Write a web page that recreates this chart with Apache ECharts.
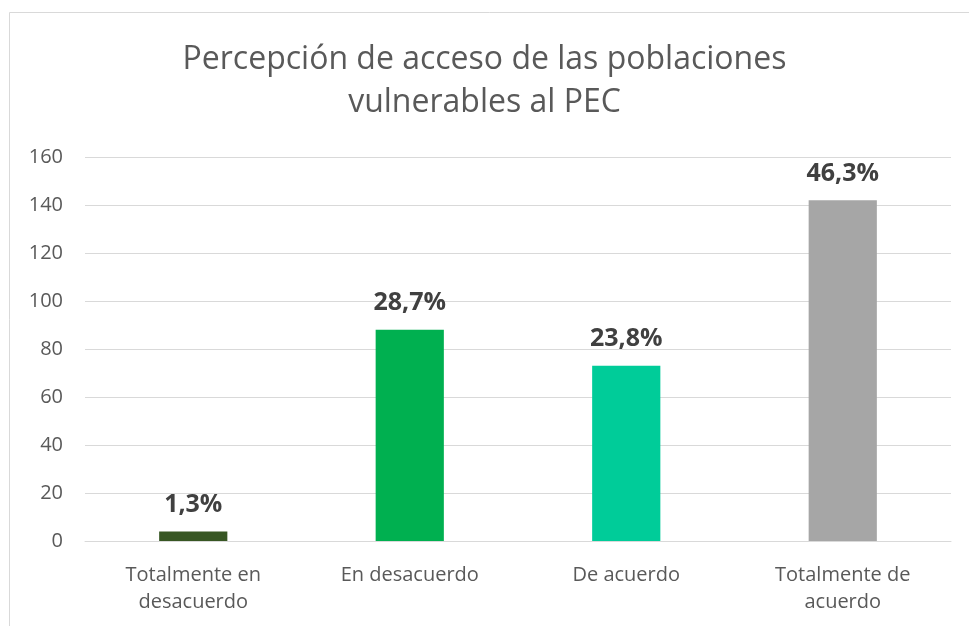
<!DOCTYPE html>
<html>
<head>
<meta charset="utf-8">
<script src="https://cdn.jsdelivr.net/npm/echarts@6/dist/echarts.min.js"></script>
<style>
  html, body { margin: 0; padding: 0; background: #fff; }
  #chart { width: 969px; height: 626px; }
</style>
</head>
<body>
<div id="chart"></div>
<script>
const categories = ['Totalmente en\ndesacuerdo', 'En desacuerdo', 'De acuerdo', 'Totalmente de\nacuerdo']
const counts = [4, 88, 73, 142]
const percentLabels = ['1,3%', '28,7%', '23,8%', '46,3%']
const barColors = ['#375623', '#00B050', '#00CC99', '#A6A6A6']

const chart = echarts.init(document.getElementById('chart'))

const option = {
  backgroundColor: '#fff',
  title: {
    text: 'Percepción de acceso de las poblaciones\nvulnerables al PEC',
    left: 'center',
    top: 33,
    textStyle: {
      fontFamily: 'Open Sans',
      fontWeight: 'normal',
      fontSize: 32,
      lineHeight: 43,
      color: '#595959'
    }
  },
  graphic: [{
    type: 'rect',
    shape: { x: 9.5, y: 12.5, width: 980, height: 640 },
    style: { fill: 'none', stroke: '#d9d9d9', lineWidth: 1 },
    silent: true
  }],
  grid: {
    left: 85,
    right: 18,
    top: 157,
    bottom: 85
  },
  xAxis: {
    type: 'category',
    data: categories,
    axisTick: { show: false },
    axisLine: { lineStyle: { color: '#d9d9d9', width: 1 } },
    axisLabel: {
      margin: 21,
      fontFamily: 'Open Sans',
      fontSize: 20,
      lineHeight: 27,
      color: '#595959'
    }
  },
  yAxis: {
    type: 'value',
    min: 0,
    max: 160,
    interval: 20,
    axisLine: { show: false },
    axisTick: { show: false },
    axisLabel: {
      margin: 22,
      fontFamily: 'Open Sans',
      fontSize: 20,
      color: '#595959'
    },
    splitLine: { lineStyle: { color: '#d9d9d9', width: 1 } }
  },
  series: [{
    type: 'bar',
    barWidth: '31.5%',
    data: counts.map((v, i) => ({
      value: v,
      itemStyle: { color: barColors[i] }
    })),
    label: {
      show: true,
      position: 'top',
      distance: 14,
      formatter: p => percentLabels[p.dataIndex],
      fontFamily: 'Open Sans',
      fontWeight: 'bold',
      fontSize: 25,
      color: '#404040'
    }
  }]
}

chart.setOption(option)
</script>
</body>
</html>
